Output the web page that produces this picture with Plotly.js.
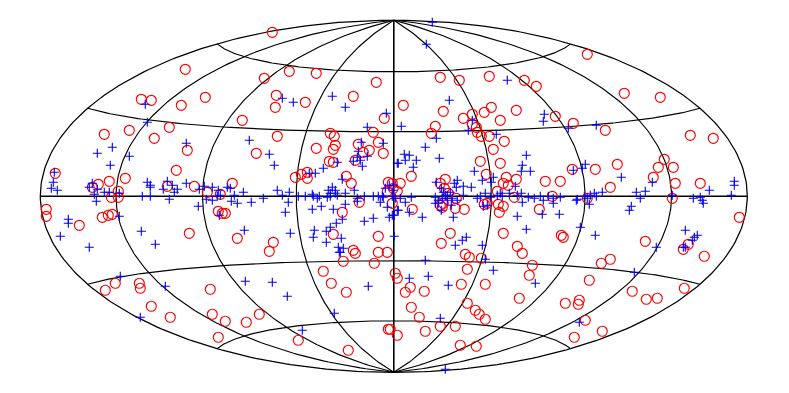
<!DOCTYPE html>
<html>
<head>
<meta charset="utf-8">
<script src="https://cdn.plot.ly/plotly-3.0.1.min.js"></script>
<style>html, body { margin: 0; background: #fff; overflow: hidden; }</style>
</head>
<body>
<div id="plot"></div>
<script>
// sky map points, in map-plane units
let circleX = [185,141,151,205,181,169,129,104,154,272,289,316,264,376,276,353,305,275,384,242,373,330,334,277,
  440,459,489,524,536,403,443,491,484,472,463,516,500,555,573,472,476,435,431,477,489,587,624,660,605,690,713,
  187,176,55,109,125,98,92,118,111,118,167,194,46,46,112,108,102,79,189,207,
  316,335,333,358,256,369,363,383,378,329,333,355,307,301,295,307,346,351,232,220,388,387,359,392,342,218,222,225,333,237,273,378,269,353,355,378,387,
  481,504,493,480,500,411,486,572,445,440,506,516,503,508,545,560,400,444,397,392,393,497,448,456,552,514,412,440,443,442,455,464,484,498,503,499,539,487,450,441,503,517,561,563,522,
  595,617,664,658,673,653,675,700,610,587,672,739,645,688,683,704,
  115,105,139,140,151,170,210,212,218,
  343,374,323,331,346,225,246,259,298,348,388,390,
  465,469,481,532,529,467,395,397,410,405,424,461,485,519,565,579,578,467,475,479,485,411,419,440,455,425,397,574,460,476,
  601,610,589,632,646,657,684,585,602];
let circleY = [69,99,100,97,105,127,130,134,138,32,71,73,78,82,95,96,102,107,118,120,132,133,136,136,
  77,80,76,80,86,105,111,107,112,114,118,110,120,116,123,124,127,126,133,132,136,54,93,97,130,135,138,
  150,170,173,181,178,184,187,191,197,197,186,186,209,216,214,215,217,225,233,192,
  148,145,149,144,153,150,152,153,142,161,162,160,172,174,177,178,176,183,183,194,182,191,202,203,212,211,213,213,234,238,242,236,251,250,253,252,252,
  136,141,149,161,163,176,174,169,179,183,177,179,183,185,181,181,183,188,191,183,188,191,193,198,196,197,209,205,203,207,208,209,204,204,206,212,209,203,233,243,233,246,235,237,253,
  169,164,159,167,167,177,183,183,187,198,198,217,241,244,249,256,
  283,290,283,288,306,317,289,314,337,
  261,263,271,283,292,321,322,314,340,350,329,329,
  254,257,258,265,275,269,273,278,287,292,291,284,284,298,303,300,304,303,310,314,319,307,317,326,326,331,335,337,345,346,
  263,259,280,291,299,298,288,320,331];

let crossX = [145,147,282,293,332,345,386,367,401,432,426,507,449,544,543,472,468,496,568,596,
  112,97,129,110,186,54,53,51,57,89,92,97,104,94,109,96,119,119,68,68,60,89,141,155,142,150,147,150,150,163,167,172,169,174,177,186,198,199,204,206,212,212,217,
  249,269,274,323,315,309,361,383,358,357,367,353,337,360,362,397,342,354,332,328,335,345,277,289,282,298,305,312,313,317,319,327,330,337,330,335,357,357,364,373,378,382,
  218,227,230,243,234,220,231,237,251,263,288,285,219,244,290,312,321,333,345,342,336,330,326,314,313,341,326,338,343,339,364,373,389,394,397,387,380,394,385,383,389,393,
  436,425,404,409,405,416,398,413,439,526,522,521,530,474,573,493,482,491,457,454,436,463,471,456,515,441,450,445,435,438,435,442,447,452,457,463,451,441,453,447,438,443,
  393,392,395,400,405,411,398,392,409,422,477,480,485,490,487,483,497,500,502,509,517,521,522,528,534,540,543,548,553,553,560,577,542,559,517,526,462,466,455,482,
  582,585,621,652,734,734,709,731,645,636,640,631,629,672,602,594,596,584,587,589,576,693,700,702,703,580,595,685,697,694,692,683,685,656,590,
  120,165,140,340,245,272,287,368,334,302,425,485,493,409,428,448,535,440,445,579,634];
let crossY = [104,122,98,102,96,107,113,127,126,22,44,80,100,114,121,120,130,134,128,125,
  147,153,156,165,143,172,182,188,190,187,183,189,192,194,192,201,193,216,219,223,236,247,231,244,196,196,182,185,187,189,181,185,199,192,189,183,206,189,186,199,187,200,196,
  140,154,165,168,173,173,142,143,151,157,156,161,162,160,166,163,179,190,187,190,190,193,190,192,195,196,196,194,196,198,196,197,196,195,193,193,198,201,196,196,196,196,
  190,187,188,192,195,195,201,203,202,198,202,212,215,230,233,209,206,209,204,219,223,227,231,230,237,238,242,247,248,252,221,218,217,215,210,207,202,236,188,197,185,185,
  138,147,154,155,160,160,163,167,158,155,165,171,171,171,170,177,180,182,180,183,182,186,187,187,186,188,192,195,197,200,203,198,200,198,200,195,205,210,217,195,203,192,
  190,196,198,198,202,197,210,215,212,217,198,196,193,197,205,206,195,193,196,193,195,193,202,197,198,196,200,196,198,203,197,199,214,214,216,229,240,237,245,245,
  168,164,177,182,181,185,190,195,191,192,198,206,210,195,192,193,196,196,198,204,200,198,197,200,203,227,235,230,235,237,240,247,247,247,195,
  276,286,317,252,281,282,296,286,313,330,260,259,270,278,276,285,283,318,369,322,272];

// graticule of the Hammer map
let gridLons = [-135, -90, -45, 0, 45, 90, 135];
let gridLats = [-60, -30, 0, 30, 60];

const cx = 393.5, cy = 196, rx = 353.5, ry = 176;

function hammer(lon, lat) {
    let l = lon * Math.PI / 360;
    let p = lat * Math.PI / 180;
    let z = Math.sqrt(1 + Math.cos(p) * Math.cos(l));
    return [cx + rx * Math.cos(p) * Math.sin(l) / z, cy - ry * Math.sin(p) / z];
}

function gridLine(fn, width) {
    let t = {x: [], y: [], type: 'scatter', mode: 'lines', hoverinfo: 'skip',
        line: {color: '#000', width: width}};
    for (let i = 0; i <= 180; i++) {
        let xy = fn(i / 180);
        t.x.push(xy[0]);
        t.y.push(xy[1]);
    }
    return t;
}

let traces = [];
gridLons.forEach(lon => traces.push(gridLine(s => hammer(lon, -90 + 180 * s), lon === 0 ? 1.6 : 1.15)));
gridLats.forEach(lat => traces.push(gridLine(s => hammer(-180 + 360 * s, lat), lat === 0 ? 1.6 : 1.15)));

// outer edge of the map
traces.push(gridLine(s => hammer(-180, -90 + 180 * s), 1.25));
traces.push(gridLine(s => hammer(180, -90 + 180 * s), 1.25));

traces.push({
    x: circleX,
    y: circleY,
    type: 'scatter',
    mode: 'markers',
    hoverinfo: 'skip',
    marker: {symbol: 'circle-open', size: 10, color: 'red', line: {color: 'red', width: 1.15}},
});

traces.push({
    x: crossX,
    y: crossY,
    type: 'scatter',
    mode: 'markers',
    hoverinfo: 'skip',
    marker: {symbol: 'cross-thin-open', size: 6.5, color: 'blue', line: {color: 'blue', width: 1.1}},
});

let layout = {
    width: 789,
    height: 393,
    margin: {l: 0, r: 0, t: 0, b: 0},
    showlegend: false,
    paper_bgcolor: '#fff',
    plot_bgcolor: '#fff',
    xaxis: {range: [-0.3, 788.7], visible: false, fixedrange: true},
    yaxis: {range: [392.7, -0.3], visible: false, fixedrange: true},
};

Plotly.newPlot('plot', traces, layout, {displayModeBar: false, staticPlot: true});
</script>
</body>
</html>
